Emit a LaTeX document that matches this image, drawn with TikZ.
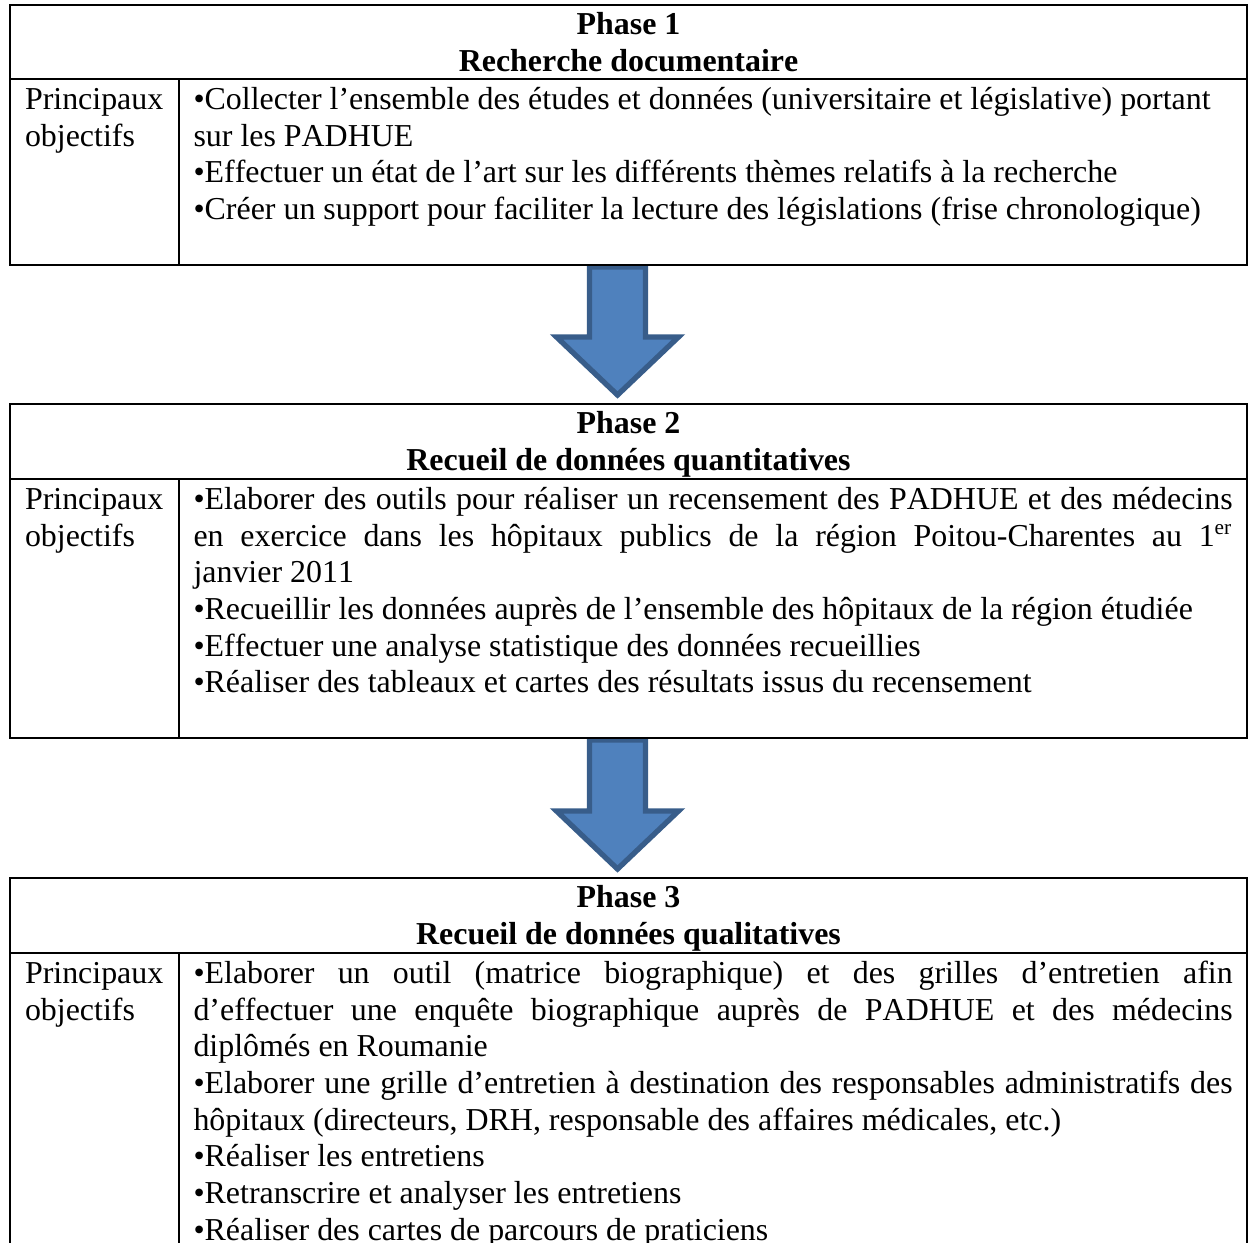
\documentclass[tikz,border=0pt]{standalone}
\usepackage{fontspec}
\setmainfont{Liberation Serif}[Ligatures={TeX,CommonOff},Kerning=Off]
\usetikzlibrary{calc}
\definecolor{arrowfill}{HTML}{4F81BD}
\definecolor{arrowline}{HTML}{385D8A}
\setlength{\parindent}{0pt}
\hyphenpenalty=10000
\newcommand{\firstline}{\rule{0pt}{9pt}}
\tikzset{
  frame/.style={line width=1.1pt},
  headtext/.style={anchor=north, align=center, inner sep=0pt, font=\fontsize{12}{13.8}\selectfont\bfseries},
  lefttext/.style={anchor=north west, align=left, inner sep=0pt, font=\fontsize{12}{13.8}\selectfont},
  bodytext/.style={anchor=north west, text width=390.7pt, align=justify, inner sep=0pt, font=\fontsize{12}{13.8}\selectfont},
  blockarrow/.style={fill=arrowfill, draw=arrowline, line width=2pt, line join=miter}
}
\begin{document}
\begin{tikzpicture}[x=0.376pt,y=-0.376pt]
\useasboundingbox (0,0) rectangle (1249,1242);
\clip (0,0) rectangle (1249,1242);
% where the arrows start and end
\coordinate (t1b) at (617.5,265);
\coordinate (t2t) at (617.5,404);
\coordinate (t2b) at (617.5,738);
\coordinate (t3t) at (617.5,878);
% block arrows
\filldraw[blockarrow] ($(t1b)+(-28,2)$) -- ($(t2t)+(-28,-67)$) -- ($(t2t)+(-61,-67)$) -- ($(t2t)+(0,-9)$)
  -- ($(t2t)+(61,-67)$) -- ($(t2t)+(28,-67)$) -- ($(t1b)+(28,2)$) -- cycle;
\filldraw[blockarrow] ($(t2b)+(-28,2)$) -- ($(t3t)+(-28,-67)$) -- ($(t3t)+(-61,-67)$) -- ($(t3t)+(0,-9)$)
  -- ($(t3t)+(61,-67)$) -- ($(t3t)+(28,-67)$) -- ($(t2b)+(28,2)$) -- cycle;
% phase 1
\draw[frame] (10,5) rectangle (1247,265);
\draw[frame] (10,79) -- (1247,79);
\draw[frame] (179,79) -- (179,265);
\node[headtext] (head1) at (628.5,10) {\firstline Phase 1\\Recherche documentaire};
\node[lefttext] (obj1) at (24.5,85) {\firstline Principaux\\objectifs};
\node[bodytext] (body1) at (193,85) {\firstline•Collecter l’ensemble des études et données (universitaire et législative) portant\newline
sur les PADHUE\par
•Effectuer un état de l’art sur les différents thèmes relatifs à la recherche\par
•Créer un support pour faciliter la lecture des législations (frise chronologique)};
% phase 2
\draw[frame] (10,404) rectangle (1247,738);
\draw[frame] (10,479) -- (1247,479);
\draw[frame] (179,479) -- (179,738);
\node[headtext] (head2) at (628.5,409) {\firstline Phase 2\\Recueil de données quantitatives};
\node[lefttext] (obj2) at (24.5,485) {\firstline Principaux\\objectifs};
\node[bodytext] (body2) at (193,485) {\firstline•Elaborer des outils pour réaliser un recensement des PADHUE et des médecins\linebreak
en exercice dans les hôpitaux publics de la région Poitou-Charentes au 1\textsuperscript{er}\linebreak
janvier 2011\par
•Recueillir les données auprès de l’ensemble des hôpitaux de la région étudiée\par
•Effectuer une analyse statistique des données recueillies\par
•Réaliser des tableaux et cartes des résultats issus du recensement};
% phase 3
\draw[frame] (10,878) rectangle (1247,1300);
\draw[frame] (10,953) -- (1247,953);
\draw[frame] (179,953) -- (179,1300);
\node[headtext] (head3) at (628.5,883) {\firstline Phase 3\\Recueil de données qualitatives};
\node[lefttext] (obj3) at (24.5,959) {\firstline Principaux\\objectifs};
\node[bodytext] (body3) at (193,959) {\firstline•Elaborer un outil (matrice biographique) et des grilles d’entretien afin\linebreak
d’effectuer une enquête biographique auprès de PADHUE et des médecins\linebreak
diplômés en Roumanie\par
•Elaborer une grille d’entretien à destination des responsables administratifs des\linebreak
hôpitaux (directeurs, DRH, responsable des affaires médicales, etc.)\par
•Réaliser les entretiens\par
•Retranscrire et analyser les entretiens\par
•Réaliser des cartes de parcours de praticiens};
\end{tikzpicture}
\end{document}
